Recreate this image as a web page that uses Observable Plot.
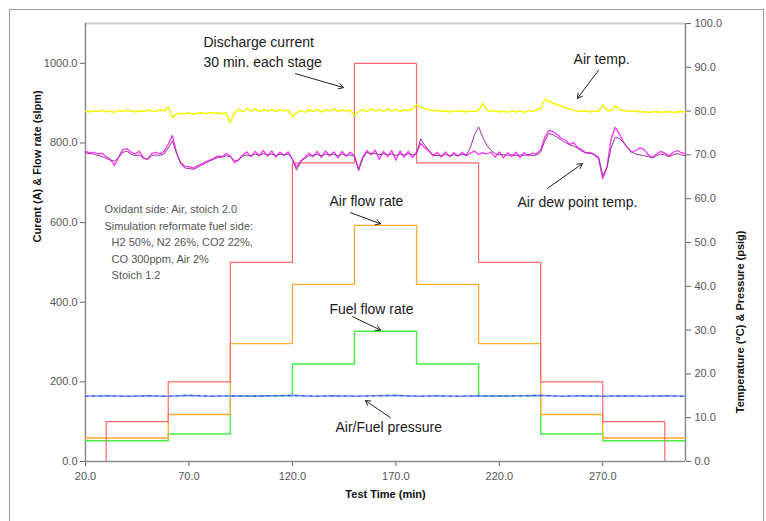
<!DOCTYPE html>
<html>
<head>
<meta charset="utf-8">
<script src="https://cdn.jsdelivr.net/npm/d3@7"></script>
<script src="https://cdn.jsdelivr.net/npm/@observablehq/plot@0.6"></script>
<style>
  html, body { margin: 0; padding: 0; background: #fff; }
  #wrap { position: relative; width: 766px; height: 521px; overflow: hidden; }
  #border { position: absolute; left: 9px; top: 9px; width: 753px; height: 530px; border: 1px solid #9a9a9a; pointer-events: none; }
  #chart { position: absolute; left: 0; top: 0; }
</style>
</head>
<body>
<div id="wrap"><div id="chart"></div><div id="border"></div></div>
<script>
// ---- step series (stage tables) ----
const currentTimes = [30, 30, 60, 90, 120, 150, 180, 210, 240, 270, 300];
const currentValues = [0, 100, 200, 500, 750, 1000, 750, 500, 200, 100, 0];
const flowTimes = [20, 60, 90, 120, 150, 180, 210, 240, 270, 310];
const airFlowValues = [59, 118, 296, 445, 593, 445, 296, 118, 59, 59];
const fuelFlowValues = [52, 69, 165, 245, 327, 245, 165, 69, 52, 52];

// ---- pressure (psig, right axis) ----
const pressureTimes = [20,30,40,50,60,70,80,90,100,110,120,130,140,150,160,170,180,190,200,210,220,230,240,250,260,270,280,290,300,310];
const pressureValues = [14.9,15.0,14.9,15.0,14.9,15.1,14.9,15.0,14.9,15.0,15.1,14.9,15.0,14.9,15.0,15.1,14.9,15.0,14.9,15.0,14.9,15.0,15.1,14.9,15.0,14.9,15.0,14.9,15.0,14.9];

// ---- temperatures (degC, right axis) ----
const sampleTimes = [
  20,22,24,26,28,30,32,34,36,38,
  40,42,44,46,48,50,52,54,56,58,
  60,62,64,66,68,70,72,74,76,78,
  80,82,84,86,88,90,92,94,96,98,
  100,102,104,106,108,110,112,114,116,118,
  120,122,124,126,128,130,132,134,136,138,
  140,142,144,146,148,150,152,154,156,158,
  160,162,164,166,168,170,172,174,176,178,
  180,182,184,186,188,190,192,194,196,198,
  200,202,204,206,208,210,212,214,216,218,
  220,222,224,226,228,230,232,234,236,238,
  240,242,244,246,248,250,252,254,256,258,
  260,262,264,266,268,270,272,274,276,278,
  280,282,284,286,288,290,292,294,296,298,
  300,302,304,306,308,310];
const airTemp = [
  80.0,79.8,80.1,79.9,80.2,79.8,80.0,79.7,80.1,79.9,
  80.2,80.0,79.8,80.1,79.9,80.2,80.0,79.9,80.3,80.0,
  81.0,78.5,79.3,79.5,79.4,79.6,79.3,79.5,79.6,79.4,
  79.7,79.5,79.6,79.4,79.6,77.4,79.6,80.4,79.8,80.6,
  80.0,80.5,79.9,80.4,80.0,80.3,79.9,80.4,80.0,80.2,
  78.8,79.6,80.1,79.7,80.3,79.9,80.4,79.8,80.3,80.0,
  80.5,79.9,80.3,80.0,80.2,79.0,79.8,80.4,79.9,80.5,
  80.0,80.4,79.9,80.5,80.0,80.4,79.9,80.3,80.1,80.4,
  81.4,80.9,80.5,80.3,80.1,80.2,79.9,80.1,79.8,80.0,
  79.9,80.1,79.8,80.0,79.9,80.1,81.8,80.2,79.9,80.1,
  79.8,80.0,79.7,80.1,79.8,80.0,79.7,80.1,79.9,80.3,
  80.6,82.6,82.3,81.8,81.5,81.1,80.7,80.5,80.2,80.0,
  79.9,80.1,79.8,80.0,79.9,81.4,80.2,80.0,81.2,80.4,
  80.1,80.0,79.9,80.0,79.8,79.9,79.7,79.8,79.9,79.7,
  79.8,79.9,79.7,79.8,79.9,79.8];
const dewPointA = [
  70.8,70.5,70.6,70.2,70.4,69.6,69.0,67.6,69.5,71.2,
  71.4,70.6,70.2,70.8,69.3,69.0,70.3,70.6,70.2,70.8,
  72.5,74.4,70.5,68.2,67.4,67.3,67.0,67.5,67.9,68.4,
  68.8,69.2,69.8,69.5,70.3,69.8,68.2,68.8,70.0,70.7,
  69.6,70.8,69.8,71.0,69.7,70.9,69.5,70.6,69.9,70.7,
  69.0,67.2,68.6,69.4,70.4,69.6,70.8,69.4,70.9,69.8,
  70.7,69.3,70.8,69.7,70.6,69.8,66.8,69.5,71.0,70.0,
  71.1,69.0,70.8,69.6,71.0,68.8,70.9,69.5,70.8,69.4,
  70.6,72.6,71.6,70.9,69.8,70.6,69.5,70.7,69.6,70.5,
  69.7,70.6,69.8,70.4,70.9,70.1,70.5,70.2,70.6,69.5,
  70.7,69.3,70.5,69.6,70.6,69.4,70.5,69.8,70.4,70.2,
  71.2,74.0,75.6,75.3,74.6,73.8,73.4,72.4,72.8,71.6,
  71.2,70.4,70.6,70.0,69.2,64.6,67.2,73.5,76.3,74.8,
  73.0,71.6,70.6,71.0,71.6,71.2,70.0,69.4,70.2,70.8,
  70.4,69.8,70.6,71.0,70.5,70.3];
const dewPointB = [
  70.5,70.3,70.2,69.9,69.6,69.2,68.8,68.6,69.4,70.6,
  70.8,70.2,69.8,70.0,69.2,69.0,69.8,70.0,69.9,70.2,
  71.6,73.2,70.4,68.0,67.0,66.9,66.7,67.1,67.6,68.1,
  68.6,69.0,69.4,69.5,69.8,69.6,68.6,68.9,69.7,70.0,
  69.8,70.2,69.9,70.3,70.0,70.2,69.9,70.1,70.0,70.2,
  69.0,66.5,68.4,69.2,69.8,69.9,70.1,69.8,70.2,70.0,
  70.1,69.8,70.2,69.9,70.0,69.6,66.4,69.2,70.6,70.2,
  70.4,70.0,70.3,70.1,70.2,69.9,70.2,70.0,70.3,70.0,
  70.2,73.6,72.2,71.0,70.0,69.8,69.9,70.1,69.8,70.0,
  69.9,70.1,70.0,71.6,74.6,76.4,74.0,72.2,71.0,70.3,
  70.0,70.1,69.9,70.0,69.8,70.0,69.9,70.1,69.8,70.0,
  70.6,73.2,74.9,74.6,74.0,73.4,72.8,72.3,72.0,71.5,
  70.8,70.5,70.3,70.1,69.5,65.3,67.0,71.6,74.0,73.8,
  72.8,71.6,70.6,70.2,70.0,69.8,69.6,69.3,69.8,70.2,
  70.0,69.6,70.0,70.3,70.0,69.8];

// ---- axes ----
const xTicks = [20, 70, 120, 170, 220, 270];
const leftTicks = [0, 200, 400, 600, 800, 1000];
const rightTicks = [0, 10, 20, 30, 40, 50, 60, 70, 80, 90, 100];
const xDomain = [20, 310];
const leftMax = 1100;
const rightMax = 100;
const xTitle = "Test Time (min)";
const leftTitle = "Curent (A) & Flow rate (slpm)";
const rightTitle = "Temperature (°C) & Pressure (psig)";

// ---- annotations ----
const noteTexts = ["Discharge current\n30 min. each stage", "Air temp.", "Air dew point temp.", "Air flow rate", "Fuel flow rate", "Air/Fuel pressure"];
const noteTime = [77.0, 255.9, 228.8, 137.9, 137.9, 140.8];
const noteValue = [1032, 1015, 655, 658, 387, 90];
const arrowFromTime = [121.5, 267.9, 243.3, 148.1, 149.0, 167.4];
const arrowFromValue = [974, 982, 686, 625, 364, 110];
const arrowToTime = [144.7, 257.8, 260.2, 162.6, 162.6, 155.3];
const arrowToValue = [939, 912, 748, 597, 330, 153];
const conditionsA = "Oxidant side: Air, stoich 2.0\nSimulation reformate fuel side:";
const conditionsB = "H2 50%, N2 26%, CO2 22%,\nCO 300ppm, Air 2%\nStoich 1.2";
const conditionsPos = [[29.2, 616], [32.6, 512]];

// ---- build ----
const k = leftMax / rightMax; // right-axis units -> left-axis units
const fmt = d3.format(".1f");
const current = currentTimes.map((t, i) => ({t, v: currentValues[i]}));
const airFlow = flowTimes.map((t, i) => ({t, v: airFlowValues[i]}));
const fuelFlow = flowTimes.map((t, i) => ({t, v: fuelFlowValues[i]}));
const pressure = pressureTimes.map((t, i) => ({t, v: pressureValues[i] * k}));
const n = Math.min(sampleTimes.length, airTemp.length, dewPointA.length, dewPointB.length);
const temps = d3.range(n).map(i => ({t: sampleTimes[i], a: airTemp[i] * k, d1: dewPointA[i] * k, d2: dewPointB[i] * k}));
const notes = noteTexts.map((s, i) => ({s, t: noteTime[i], v: noteValue[i]}));
const arrows = arrowFromTime.map((t, i) => ({t1: t, v1: arrowFromValue[i], t2: arrowToTime[i], v2: arrowToValue[i]}));

const chart = Plot.plot({
  width: 766, height: 521,
  marginLeft: 85, marginRight: 81, marginTop: 23, marginBottom: 60,
  style: {fontFamily: "'Liberation Sans', Arial, sans-serif", fontSize: "11px", background: "transparent", color: "#555"},
  x: {domain: xDomain},
  y: {domain: [0, leftMax]},
  marks: [
    Plot.ruleY([leftMax], {stroke: "#d0d0d0", strokeWidth: 2}),
    Plot.ruleX([xDomain[0]], {stroke: "#8a8a8a", strokeWidth: 1.5}),
    Plot.ruleX([xDomain[1]], {stroke: "#8a8a8a", strokeWidth: 1.5}),
    Plot.axisX({ticks: xTicks, tickFormat: fmt, tickSize: 5, tickPadding: 6, label: null, stroke: "#666", fill: "#555"}),
    Plot.axisY({anchor: "left", ticks: leftTicks, tickFormat: fmt, tickSize: 5, tickPadding: 3, label: null, stroke: "#666", fill: "#555"}),
    Plot.axisY({anchor: "right", ticks: rightTicks.map(d => d * k), tickFormat: d => fmt(d / k), tickSize: 5, tickPadding: 4, label: null, stroke: "#666", fill: "#555"}),
    Plot.line(fuelFlow, {x: "t", y: "v", curve: "step-after", stroke: "#44ee44", strokeWidth: 1.4}),
    Plot.line(airFlow, {x: "t", y: "v", curve: "step-after", stroke: "#ffaa2a", strokeWidth: 1.3}),
    Plot.line(current, {x: "t", y: "v", curve: "step-after", stroke: "#ff6a6a", strokeWidth: 1.2}),
    Plot.line(pressure, {x: "t", y: "v", stroke: "#6f8fff", strokeWidth: 1.6}),
    Plot.line(pressure, {x: "t", y: "v", stroke: "#2a48d8", strokeWidth: 1, strokeDasharray: "2,5"}),
    Plot.line(temps, {x: "t", y: "a", stroke: "#f4f400", strokeWidth: 1.5}),
    Plot.line(temps, {x: "t", y: "d1", stroke: "#ff33ff", strokeWidth: 1.3}),
    Plot.line(temps, {x: "t", y: "d2", stroke: "#9a3399", strokeWidth: 1}),
    Plot.ruleY([0], {stroke: "#8a8a8a", strokeWidth: 1.5}),
    Plot.arrow(arrows, {x1: "t1", y1: "v1", x2: "t2", y2: "v2", stroke: "#222", strokeWidth: 1, headLength: 8}),
    Plot.text(notes, {x: "t", y: "v", text: "s", textAnchor: "start", fontSize: 14, fill: "#1a1a1a", lineHeight: 1.43}),
    Plot.text([conditionsA], {x: () => conditionsPos[0][0], y: () => conditionsPos[0][1], text: d => d, textAnchor: "start", fontSize: 11, fill: "#555", lineHeight: 1.5}),
    Plot.text([conditionsB], {x: () => conditionsPos[1][0], y: () => conditionsPos[1][1], text: d => d, textAnchor: "start", fontSize: 11, fill: "#555", lineHeight: 1.5}),
    Plot.text([leftTitle], {text: d => d, frameAnchor: "left", dx: -48, rotate: -90, fontWeight: "bold", fontSize: 11, fill: "#111"}),
    Plot.text([rightTitle], {text: d => d, frameAnchor: "right", dx: 55, dy: -12, rotate: -90, fontWeight: "bold", fontSize: 11, fill: "#111"}),
    Plot.text([xTitle], {text: d => d, frameAnchor: "bottom", dy: 36, fontWeight: "bold", fontSize: 11, fill: "#111"})
  ]
});
document.getElementById("chart").appendChild(chart);
</script>
</body>
</html>
